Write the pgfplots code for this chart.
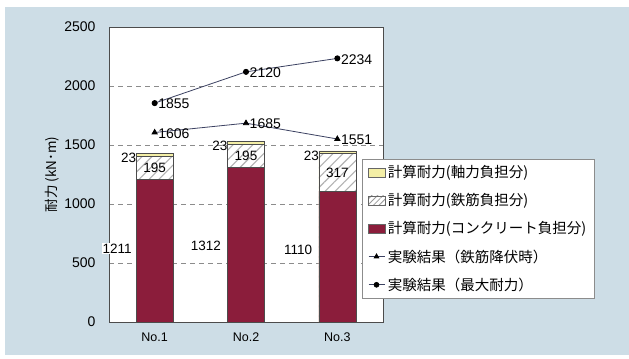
\documentclass[border=0pt]{standalone}
\usepackage{fontspec}
\setmainfont{Liberation Sans}
\newfontfamily\jp{Noto Sans CJK JP}
\usepackage{pgfplots}
\pgfplotsset{compat=1.18}
\usetikzlibrary{patterns.meta}
\definecolor{bgc}{HTML}{CDDDE6}
\definecolor{concrete}{HTML}{8B1D3B}
\definecolor{axial}{HTML}{F4EFA6}
\definecolor{linec}{HTML}{3C4262}
\pgfplotsset{
  mybar/.style={legend image code/.code={\draw[##1] (0bp,-4.5bp) rectangle (17bp,4.5bp);}},
  myhatch/.style={legend image code/.code={\draw[##1] (0bp,-4.5bp) rectangle (17bp,4.5bp); \path[pattern={Lines[angle=45,distance=4bp,line width=0.8bp]}, pattern color=black!40] (0bp,-4.5bp) rectangle (17bp,4.5bp);}},
  myline/.style={legend image code/.code={\draw[##1, mark=none] (0bp,0bp) -- (16bp,0bp); \draw[##1] plot coordinates {(8bp,0bp)};}},
}
\begin{document}
\begin{tikzpicture}[x=1bp,y=1bp]
\path[use as bounding box] (0,0) rectangle (629,358);
\fill[bgc] (5,3) rectangle (629,351);
\begin{axis}[
  at={(109bp,36bp)}, anchor=south west,
  scale only axis, width=274bp, height=295bp,
  xmin=-0.5, xmax=2.5, ymin=0, ymax=2500,
  clip=false,
  axis background/.style={fill=white},
  axis line style={draw=black!70},
  xtick={0,1,2}, xticklabels={No.1,No.2,No.3},
  major x tick style={draw=none},
  extra x ticks={0.5,1.5}, extra x tick labels={},
  extra x tick style={major tick length=5bp, tick style={draw=black!70}},
  ytick={0,500,...,2500},
  major y tick style={draw=none},
  ymajorgrids, major grid style={dash pattern=on 5bp off 4bp, draw=black!45, line width=0.8bp},
  /pgf/number format/assume math mode=true,
  /pgf/number format/1000 sep={},
  yticklabel style={font=\fontsize{14bp}{16bp}\selectfont, xshift=-10bp},
  xticklabel style={font=\fontsize{12.5bp}{15bp}\selectfont, yshift=-7bp},
  ylabel={\jp 耐力 (kN･m)},
  ylabel style={font=\fontsize{13.5bp}{15bp}\selectfont, yshift=-2bp},
  bar width=37bp,
  legend cell align=left,
  legend style={at={(0.923,0.553)}, anchor=north west, draw=black!45, fill=white,
    font=\jp\fontsize{14.5bp}{16bp}\selectfont, inner xsep=6bp, inner ysep=4.5bp,
    row sep=10.3bp},
]
% legend images
\addlegendimage{mybar, fill=axial, draw=black!60}
\addlegendentry{計算耐力(軸力負担分)}
\addlegendimage{myhatch, fill=white, draw=black!60}
\addlegendentry{計算耐力(鉄筋負担分)}
\addlegendimage{mybar, fill=concrete, draw=black!60}
\addlegendentry{計算耐力(コンクリート負担分)}
\addlegendimage{myline, linec, line width=0.8bp, mark=triangle*, mark size=2.6bp, mark options={fill=black, draw=black}}
\addlegendentry{実験結果（鉄筋降伏時）}
\addlegendimage{myline, linec, line width=0.8bp, mark=*, mark size=2.4bp, mark options={fill=black, draw=black}}
\addlegendentry{実験結果（最大耐力）}
% bars (overlapping: total, concrete+rebar, concrete)
\addplot[ybar, bar shift=0pt, forget plot, fill=axial, draw=black!70, line width=0.6bp]
  coordinates {(0,1429) (1,1530) (2,1450)};
\addplot[ybar, bar shift=0pt, forget plot, fill=white, draw=black!70, line width=0.6bp,
  postaction={pattern={Lines[angle=45,distance=7bp,line width=1.1bp]}, pattern color=black!30}]
  coordinates {(0,1406) (1,1507) (2,1427)};
\addplot[ybar, bar shift=0pt, forget plot, fill=concrete, draw=black!70, line width=0.6bp]
  coordinates {(0,1211) (1,1312) (2,1110)};
% lines
\addplot[forget plot, linec, line width=0.8bp, mark=triangle*, mark size=3bp, mark options={fill=black,draw=black},
  nodes near coords, point meta=explicit symbolic,
  every node near coord/.style={anchor=west, font=\fontsize{14bp}{16bp}\selectfont, black, xshift=0bp, yshift=-1bp}]
  coordinates {(0,1606)[1606] (1,1685)[1685] (2,1551)[1551]};
\addplot[forget plot, linec, line width=0.8bp, mark=*, mark size=2.6bp, mark options={fill=black,draw=black},
  nodes near coords, point meta=explicit symbolic,
  every node near coord/.style={anchor=west, font=\fontsize{14bp}{16bp}\selectfont, black, xshift=0bp, yshift=-1bp}]
  coordinates {(0,1855)[1855] (1,2120)[2120] (2,2234)[2234]};
% bar labels
\begin{scope}[every node/.style={font=\fontsize{13.5bp}{16bp}\selectfont, inner sep=1bp}]
\node[fill=white] at (axis cs:-0.41,621) {1211};
\node at (axis cs:0.56,644) {1312};
\node at (axis cs:1.57,610) {1110};
\node at (axis cs:0,1308) {195};
\node at (axis cs:1,1409) {195};
\node at (axis cs:2,1268) {317};
\node[anchor=east] at (axis cs:-0.19,1390) {23};
\node[anchor=east] at (axis cs:0.81,1490) {23};
\node[anchor=east] at (axis cs:1.81,1410) {23};
\end{scope}
\end{axis}
\end{tikzpicture}
\end{document}
